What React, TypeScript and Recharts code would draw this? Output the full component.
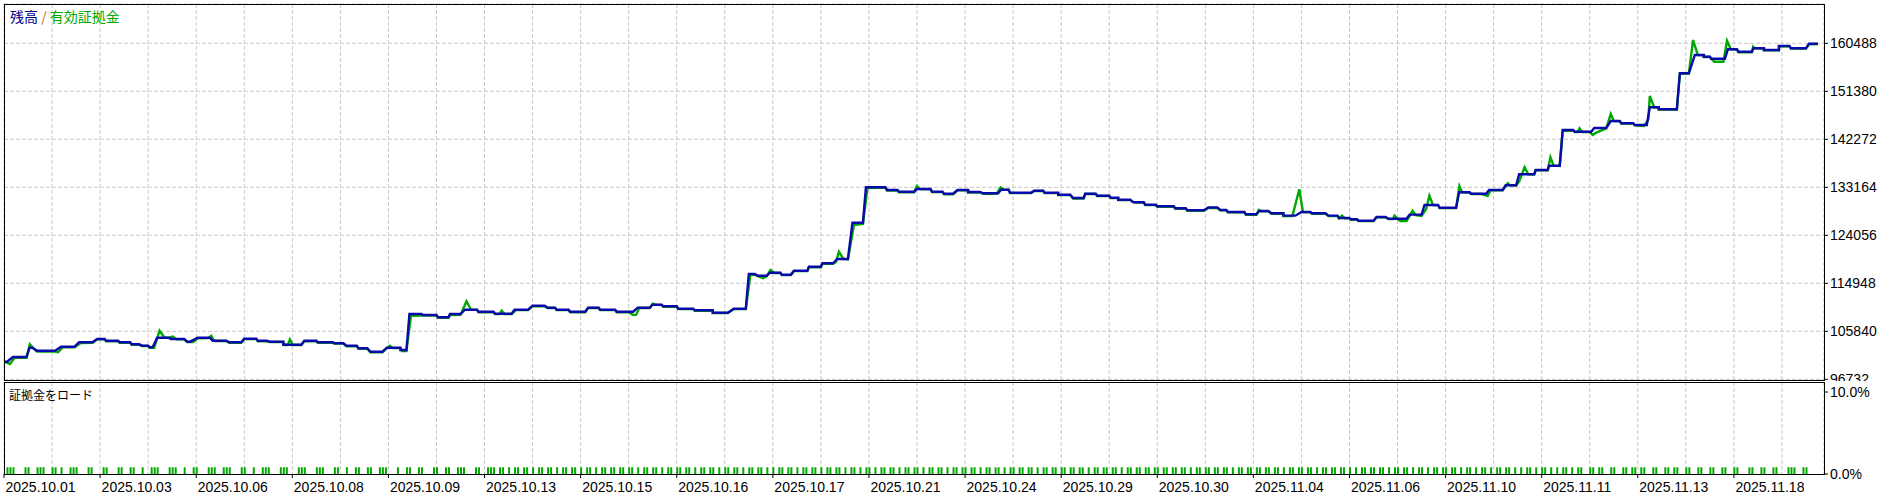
import React from 'react';
import { LineChart, Line, BarChart, Bar, XAxis, YAxis, CartesianGrid } from 'recharts';

// x = deal number, y = account value
const X_MAX = 606;

const Y_TICKS = [96732, 105840, 114948, 124056, 133164, 142272, 151380, 160488];

const DATES = [
  '2025.10.01', '2025.10.03', '2025.10.06', '2025.10.08', '2025.10.09', '2025.10.13',
  '2025.10.15', '2025.10.16', '2025.10.17', '2025.10.21', '2025.10.24', '2025.10.29',
  '2025.10.30', '2025.11.04', '2025.11.06', '2025.11.10', '2025.11.11', '2025.11.13',
  '2025.11.18',
];

// balance: [from deal, to deal, value]
const BAL_STEPS: [number, number, number][] = [
  [0, 1, 100070], [3, 7.5, 100960], [8.5, 9.5, 102730], [11, 17, 102160], [19, 23.5, 102920],
  [25, 29.5, 103750], [31, 33.5, 104380], [34, 38, 104060], [38.5, 42, 103750], [42.5, 45, 103370],
  [46, 48, 103110], [48.5, 49.5, 102800], [51, 55, 104620], [55.5, 60, 104380], [61, 62, 103870],
  [64.5, 68.5, 104620], [69.5, 74, 104060], [75, 79, 103750], [80, 84, 104440], [84.5, 87.5, 104060],
  [88.5, 93, 103870], [93, 99, 103300], [100, 104, 104060], [104.5, 109.5, 103750], [110, 113, 103560],
  [114, 117.5, 103110], [118, 121, 102610], [122, 126, 101970], [127.5, 132, 102730], [132, 134, 102290],
  [135, 139, 109120], [139.5, 144, 108930], [144.5, 148, 108500], [148.5, 152, 109120], [153.5, 157.5, 109940],
  [158, 163, 109560], [163.5, 169, 109180], [170, 174.5, 109940], [176, 180, 110700], [181, 183.5, 110320],
  [184, 188, 109940], [188.5, 193.5, 109560], [194.5, 198, 110320], [198.5, 203.5, 109940], [204, 209.5, 109560],
  [211, 215, 110320], [216, 219, 110890], [219.5, 224, 110580], [224.5, 229.5, 110130], [230, 236, 109830],
  [236, 241, 109370], [243, 247, 110130], [248, 250, 116710], [251, 254, 116390], [255, 258.5, 116960],
  [259, 262, 116580], [263, 267.5, 117340], [268, 272, 118100], [272.5, 276, 118740], [277.5, 281, 119560],
  [282.5, 286, 126450], [287, 293.5, 133160], [294, 297.5, 132650], [298, 303, 132330], [304, 308.5, 132840],
  [309, 312.5, 132330], [313, 316, 131950], [317.5, 321, 132650], [321, 325, 132270], [326, 331, 132030],
  [332, 334.5, 132710], [335, 342, 132140], [343, 346, 132520], [346.5, 351, 132140], [351, 355, 131760],
  [356, 359.5, 131130], [360, 363.5, 131950], [364, 368, 131570], [368.5, 371, 131190], [371, 375, 130810],
  [376, 379.5, 130320], [380, 383.5, 129860], [384, 389.5, 129560], [390, 393.5, 129180], [394, 399.5, 128800],
  [401, 404, 129330], [405, 407, 128860], [407.5, 413, 128480], [413.5, 417, 128040], [418, 421, 128670],
  [422, 426, 128230], [426, 430, 127780], [432, 435, 128480], [435.5, 440, 128230], [441, 444, 127780],
  [444.5, 448, 127340], [448.5, 450.5, 127090], [451, 456, 126830], [457, 460, 127530], [461, 467, 127210],
  [468, 472, 127970], [473, 477.5, 129810], [478, 483.5, 129290], [484.5, 488, 132220], [488.5, 493.5, 131950],
  [494.5, 499, 132650], [500, 503.5, 133540], [504.5, 509.5, 135630], [510, 514, 136450], [514.5, 518, 137260],
  [519, 522.5, 144040], [523, 528.5, 143710], [529.5, 533.5, 144420], [535, 538, 145740], [538.5, 542.5, 145310],
  [543, 547, 144990], [548, 551, 148340], [551, 557, 147960], [558, 561, 154800], [563, 566, 158270],
  [566, 568, 157950], [568.5, 573, 157570], [574, 577, 159350], [577.5, 582, 158890], [582.5, 586, 159540],
  [586, 591, 159220], [591, 594.5, 159980], [595, 600, 159540], [601, 604, 160410],
];

// equity: [deal, value]
const EQUITY: [number, number][] = [
  [0, 100070], [1, 99900], [2, 99640], [3.5, 100800], [7.5, 100800], [8.6, 103370], [9.8, 102600],
  [11, 102000], [17, 102000], [18, 101860], [19.5, 102800], [23.5, 102800], [25.5, 103600], [29.5, 103650],
  [31, 104300], [33.5, 104300], [34, 103950], [38, 103950], [38.5, 103650], [42, 103650], [42.5, 103300],
  [45, 103300], [46, 103050], [48, 103050], [48.5, 102700], [50, 102700], [51.8, 105950], [53.5, 104620],
  [55, 104620], [56.2, 104820], [57.5, 104300], [60, 104300], [61, 103800], [63, 103800], [64.5, 104500],
  [68, 104550], [69, 105000], [70, 104000], [74, 104000], [75, 103650], [79, 103650], [80, 104350],
  [84, 104350], [84.5, 103950], [87.5, 103950], [88.5, 103800], [93, 103800], [93.5, 103250], [94.5, 103250],
  [95.2, 104320], [96.2, 103250], [99, 103250], [100, 103950], [104, 103950], [104.5, 103650], [109.5, 103650],
  [110, 103500], [113, 103500], [114, 103000], [117.5, 103000], [118, 102500], [121, 102500], [122, 101870],
  [126, 101870], [127.5, 102650], [128.5, 103110], [129.5, 102650], [132, 102650], [132.5, 102100], [134, 102100],
  [135.5, 108800], [139, 108850], [144, 108850], [144.5, 108400], [148, 108400], [148.5, 108900], [152, 108950],
  [154, 111540], [155.5, 109940], [157.5, 109900], [158, 109450], [163, 109450], [163.5, 109100], [165, 109100],
  [165.7, 109750], [166.7, 109100], [169, 109100], [170.5, 109850], [174.5, 109850], [176, 110600], [180, 110600],
  [181, 110250], [183.5, 110250], [184, 109850], [188, 109850], [188.5, 109450], [193.5, 109450], [194.5, 110250],
  [198, 110250], [198.5, 109850], [203.5, 109850], [204, 109450], [208, 109450], [209.5, 108930], [210.5, 109000],
  [211.5, 110250], [215, 110250], [216, 111100], [217, 110890], [219, 110800], [219.5, 110500], [224, 110500],
  [224.5, 110050], [229.5, 110050], [230, 109750], [236, 109750], [236, 109300], [241, 109300], [243, 110050],
  [247, 110050], [248.5, 116500], [250, 116600], [251, 116300], [252.8, 115900], [254, 116300], [255.2, 117470],
  [256.5, 116900], [258.5, 116900], [259, 116500], [262, 116500], [263, 117250], [267.5, 117250], [268, 118000],
  [272, 118000], [272.5, 118650], [276, 118650], [277, 119000], [278, 120940], [279.5, 119560], [281, 119500],
  [283, 126000], [286, 126200], [287.5, 133000], [293.5, 133100], [294, 132550], [297.5, 132550], [298, 132200],
  [303, 132200], [304, 133410], [305, 132840], [308.5, 132800], [309, 132250], [312.5, 132250], [313, 131850],
  [316, 131850], [317.5, 132600], [321, 132600], [321, 132180], [325, 132180], [326, 131930], [330.5, 131930],
  [331.8, 133160], [333, 132710], [334.5, 132650], [335, 132050], [342, 132050], [343, 132450], [346, 132450],
  [346.5, 132050], [351, 132050], [351, 131680], [355, 131680], [356, 131050], [359.5, 131050], [360, 131880],
  [363.5, 131880], [364, 131500], [368, 131500], [368.5, 131110], [371, 131110], [371, 130730], [375, 130730],
  [376, 130400], [377, 130250], [379.5, 130250], [380, 129780], [383.5, 129780], [384, 129480], [389.5, 129480],
  [390, 129100], [393.5, 129100], [394, 128720], [399.5, 128720], [401, 129250], [404, 129250], [405, 128780],
  [407, 128780], [407.5, 128400], [413, 128400], [413.5, 127960], [417, 127960], [417.8, 128860], [418.5, 128600],
  [421, 128600], [422, 128150], [426, 128150], [426, 127700], [429, 127700], [431.3, 132790], [432.5, 128480],
  [435, 128400], [435.5, 128150], [440, 128150], [441, 127700], [444, 127700], [444.5, 127260], [445.5, 127780],
  [446.5, 127260], [448, 127260], [448.5, 127010], [450.5, 127010], [451, 126750], [456, 126750], [457, 127450],
  [460, 127450], [461, 127130], [462.5, 127130], [463, 127780], [464, 127130], [465, 126770], [467, 126770],
  [468, 127700], [469, 128720], [470, 127900], [472, 127720], [473.5, 129000], [474.6, 131570], [475.8, 129810],
  [477.5, 129750], [478, 129210], [483.5, 129210], [484.6, 133410], [485.5, 132220], [488, 132150], [488.5, 131880],
  [492, 131880], [494, 131510], [495, 132600], [499, 132600], [500.2, 133540], [500.7, 133920], [501.5, 133540],
  [503.5, 133500], [504.5, 134300], [506.3, 136960], [507.5, 135630], [509.5, 135600], [510, 136400], [514, 136400],
  [514.9, 138860], [516, 137260], [518, 137200], [519, 143900], [522.5, 143950], [523, 143650], [524, 143650],
  [524.6, 144360], [525.5, 143650], [528, 143650], [529, 143090], [530, 143500], [533.5, 144350], [535, 147070],
  [536, 145740], [538, 145700], [538.5, 145250], [542.5, 145250], [543, 144900], [546, 144800], [547.5, 146000],
  [548, 150490], [549.5, 148340], [551, 148300], [551, 147900], [557, 147900], [558, 154700], [561, 154750],
  [562.4, 161110], [564, 158270], [566, 158200], [566, 157900], [568, 157900], [568.5, 157500], [569.5, 157000],
  [572.5, 157000], [573.7, 160980], [575, 159350], [577, 159300], [577.5, 158800], [582, 158800], [582.4, 159840],
  [583, 159540], [586, 159500], [586, 159150], [591, 159150], [591, 159900], [594.5, 159900], [595, 159480],
  [600, 159480], [601, 160300], [604, 160350],
];

// margin load: one char per deal, '1' = position open
const LOAD_ROWS = [
  '01110001100111001101001110001100', '01100011001100100111000111001001',
  '10001110011100011001001110001110', '00111000111000110010011001100111',
  '00010011001100011001100111000110', '01110110101101101011011010110110',
  '10110101101101101101011011010110', '11011010110110101101101011011010',
  '10110110101101101011011010110101', '10101101101011011010110110101101',
  '10110101101101011011011010110110', '11011011010110110110101101101101',
  '10110110110101101101101101011011', '01101101101011011011010110110110',
  '10101101101101011011010110101101', '10110101101011010110110101011010',
  '11010101101011001101100110011011', '01100110011011001100110011001100',
  '11000110011001100011100110000000',
];
const LOAD_PCT = 0.82;

const balanceData = BAL_STEPS.flatMap(([a, b, v]) => [{ x: a, v }, { x: b, v }]);
const equityData = EQUITY.map(([x, v]) => ({ x, v }));
const loadData = LOAD_ROWS.join('')
  .split('')
  .map((c, i) => ({ x: i, v: c === '1' ? LOAD_PCT : 0 }))
  .filter((d) => d.v > 0);

const gridTicks = Array.from({ length: 38 }, (_, i) => i * 16);

const FONT = "'Liberation Sans', Arial, sans-serif";
const CJK = "'Noto Sans CJK JP', sans-serif";
const GRID = '#c8c8c8';

const ValueTick = ({ x, y, payload }: any) => (
  <text x={x} y={y + 5} fill="#000" fontSize={14} fontFamily={FONT}>
    {payload.value}
  </text>
);

const PctTick = ({ x, y, payload }: any) => (
  <text x={x} y={y + 5} fill="#000" fontSize={14} fontFamily={FONT}>
    {`${payload.value.toFixed(1)}%`}
  </text>
);

const DateTick = ({ x, y, payload }: any) => {
  const v = payload.value;
  if (v % 32 !== 0) return null;
  return (
    <g>
      <line x1={x} x2={x} y1={y - 4} y2={y} stroke="#000" />
      <text x={x + 1.5} y={y + 13.5} fill="#000" fontSize={14} fontFamily={FONT}>
        {DATES[v / 32]}
      </text>
    </g>
  );
};

export default function App() {
  return (
    <div style={{ position: 'absolute', left: 0, top: 0, width: 1889, height: 497, background: '#fff' }}>
      <LineChart width={1889} height={382} margin={{ top: 4, right: 0, bottom: 2, left: 4 }}>
        <CartesianGrid stroke={GRID} strokeDasharray="4 2" />
        <XAxis type="number" dataKey="x" domain={[0, X_MAX]} ticks={gridTicks} interval={0} hide allowDataOverflow />
        <YAxis
          orientation="right"
          width={65}
          domain={[96599, 167945]}
          ticks={Y_TICKS}
          interval={0}
          axisLine={false}
          tickLine={{ stroke: '#000' }}
          tickSize={4}
          tickMargin={2}
          tick={<ValueTick />}
          allowDataOverflow
        />
        <Line data={equityData} dataKey="v" stroke="#00a800" strokeWidth={2.4} dot={false} isAnimationActive={false} />
        <Line data={balanceData} dataKey="v" stroke="#0a0aaa" strokeWidth={2.4} dot={false} isAnimationActive={false} />
      </LineChart>

      <div style={{ position: 'absolute', left: 0, top: 381, background: '#fff' }}>
        <BarChart width={1889} height={116} data={loadData} margin={{ top: 1, right: 0, bottom: 0, left: 4 }}>
          <CartesianGrid stroke={GRID} strokeDasharray="4 2" horizontal={false} />
          <XAxis
            type="number"
            dataKey="x"
            domain={[0, X_MAX]}
            ticks={gridTicks}
            interval={0}
            height={23}
            axisLine={false}
            tickLine={false}
            tickSize={4}
            tickMargin={0}
            tick={<DateTick />}
          />
          <YAxis
            orientation="right"
            width={65}
            domain={[0, 11.22]}
            ticks={[0, 10]}
            interval={0}
            axisLine={false}
            tickLine={{ stroke: '#000' }}
            tickSize={4}
            tickMargin={2}
            tick={<PctTick />}
          />
          <Bar dataKey="v" fill="#00a800" barSize={2} isAnimationActive={false} />
        </BarChart>
      </div>

      <div style={{ position: 'absolute', left: 4, top: 4, width: 1821, height: 377, border: '1px solid #000', boxSizing: 'border-box', pointerEvents: 'none' }} />
      <div style={{ position: 'absolute', left: 4, top: 382, width: 1821, height: 93, border: '1px solid #000', boxSizing: 'border-box', pointerEvents: 'none' }} />

      <div style={{ position: 'absolute', left: 10, top: 9, fontFamily: CJK, fontSize: 14, lineHeight: '15px', whiteSpace: 'nowrap' }}>
        <span style={{ color: '#00008b' }}>残高</span>
        <span style={{ color: '#c07020' }}> / </span>
        <span style={{ color: '#00a800' }}>有効証拠金</span>
      </div>
      <div style={{ position: 'absolute', left: 9, top: 388, fontFamily: CJK, fontSize: 12, lineHeight: '14px', color: '#000', whiteSpace: 'nowrap' }}>
        証拠金をロード
      </div>
    </div>
  );
}
